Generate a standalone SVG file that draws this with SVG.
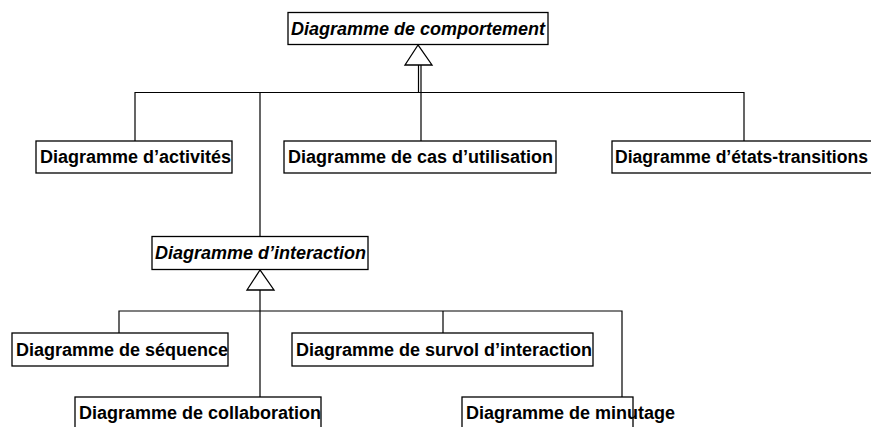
<svg xmlns="http://www.w3.org/2000/svg" width="871" height="427" viewBox="0 0 871 427">
<style>
.box{fill:#fff;stroke:#000;stroke-width:1.3}
.t{font-family:"Liberation Sans",Arial,sans-serif;font-size:18px;font-weight:bold;fill:#000}
.i{font-style:italic}
.c{fill:none;stroke:#000;stroke-width:1.2}
.tri{fill:#fff;stroke:#000;stroke-width:1.3}
</style>
<rect width="871" height="427" fill="#fff"/>
<g id="connectors">
<path class="c" d="M418.5 65V92.5M135 141V92.5H744V141M260 92.5V236M421 65V141"/>
<path class="c" d="M260 290V397M119 333V311H622V397M443 311V333"/>
<polygon class="tri" points="418,45 405,65 432,65"/>
<polygon class="tri" points="260,270 247,290 274,290"/>
</g>
<g id="comportement"><rect class="box" x="288" y="12.5" width="260" height="32"/><text class="t i" x="291" y="34.5">Diagramme de comportement</text></g>
<g id="activites"><rect class="box" x="36" y="141" width="196" height="32"/><text class="t" x="40" y="163">Diagramme d’activités</text></g>
<g id="cas"><rect class="box" x="284" y="141" width="272" height="32"/><text class="t" x="288" y="163">Diagramme de cas d’utilisation</text></g>
<g id="etats"><rect class="box" x="612" y="141" width="270" height="32"/><text class="t" x="615" y="163" textLength="253" lengthAdjust="spacingAndGlyphs">Diagramme d’états-transitions</text></g>
<g id="interaction"><rect class="box" x="152" y="236.5" width="216" height="33"/><text class="t i" x="155" y="259">Diagramme d’interaction</text></g>
<g id="sequence"><rect class="box" x="12" y="333" width="216" height="33"/><text class="t" x="16" y="355.5">Diagramme de séquence</text></g>
<g id="survol"><rect class="box" x="292" y="333" width="301" height="33"/><text class="t" x="296" y="355.5">Diagramme de survol d’interaction</text></g>
<g id="collaboration"><rect class="box" x="75" y="397" width="246" height="40"/><text class="t" x="79" y="419">Diagramme de collaboration</text></g>
<g id="minutage"><rect class="box" x="462" y="397" width="171" height="40"/><text class="t" x="466" y="419">Diagramme de minutage</text></g>
</svg>
